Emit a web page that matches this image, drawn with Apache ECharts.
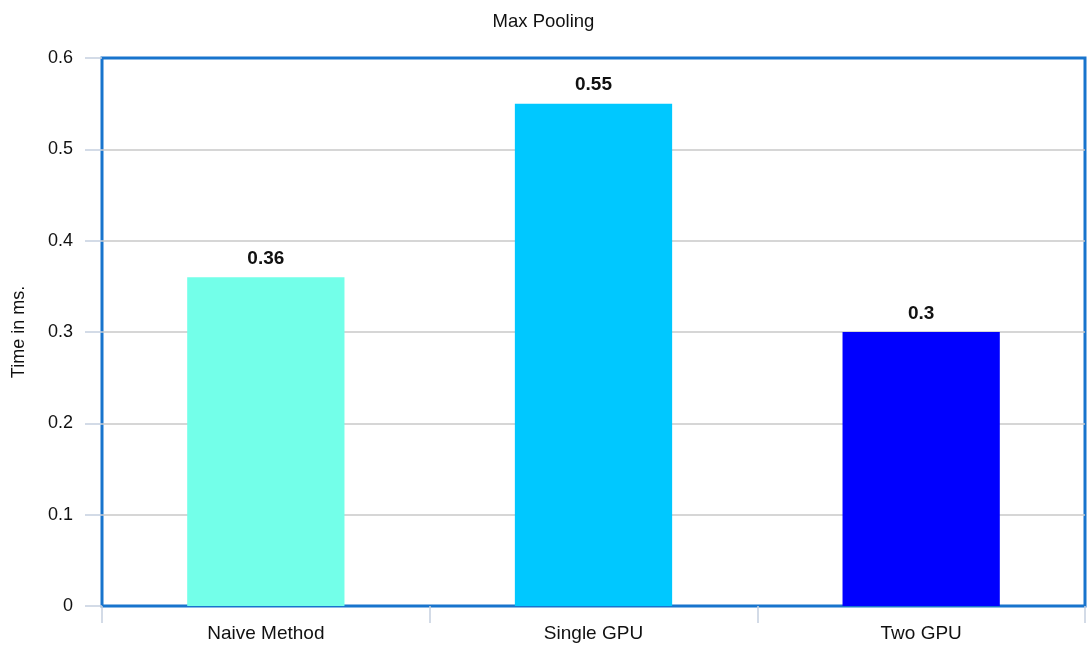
<!DOCTYPE html>
<html>
<head>
<meta charset="utf-8">
<script src="https://cdn.jsdelivr.net/npm/echarts@6/dist/echarts.min.js"></script>
<style>
  html, body { margin: 0; padding: 0; background: #fff; }
  #chart { width: 1087px; height: 648px; }
</style>
</head>
<body>
<div id="chart"></div>
<script>
// Max pooling timings per method
const categories = ['Naive Method', 'Single GPU', 'Two GPU'];
const times = [0.36, 0.55, 0.3];
const barColors = ['#73ffe9', '#00c8ff', '#0000ff'];
const yTicks = [0, 0.1, 0.2, 0.3, 0.4, 0.5, 0.6];

const chart = echarts.init(document.getElementById('chart'));
chart.setOption({
  animation: false,
  backgroundColor: '#ffffff',
  textStyle: { fontFamily: 'Liberation Sans, Arial, sans-serif' },
  title: {
    text: 'Max Pooling',
    left: 'center',
    top: 7,
    textStyle: { fontSize: 18.5, fontWeight: 'normal', color: '#111' }
  },
  grid: {
    left: 102, right: 2, top: 58, bottom: 42,
    outerBoundsMode: 'none',
    containLabel: false,
    show: true,
    borderColor: '#1874cd',
    borderWidth: 3,
    backgroundColor: 'transparent'
  },
  xAxis: {
    type: 'category',
    data: categories,
    axisLine: { show: false },
    axisTick: { show: true, length: 17, alignWithLabel: false, lineStyle: { color: '#c5d0e0', width: 1.5 } },
    axisLabel: { color: '#111', fontSize: 19, margin: 18 },
    splitLine: { show: false }
  },
  yAxis: {
    type: 'value',
    min: yTicks[0],
    max: yTicks[yTicks.length - 1],
    interval: 0.1,
    name: 'Time in ms.',
    nameLocation: 'middle',
    nameRotate: 90,
    nameGap: 74,
    nameTextStyle: { color: '#111', fontSize: 18 },
    axisLine: { show: false },
    axisTick: { show: true, length: 17, lineStyle: { color: '#c5d0e0', width: 1.5 } },
    axisLabel: { color: '#111', fontSize: 18, margin: 29 },
    splitLine: {
      show: true,
      showMinLine: false,
      showMaxLine: false,
      lineStyle: { color: '#c8c8c8', width: 1.5 }
    }
  },
  series: [{
    type: 'bar',
    barWidth: '48%',
    data: times.map((v, i) => ({ value: v, itemStyle: { color: barColors[i] } })),
    label: {
      show: true,
      position: 'top',
      distance: 9,
      color: '#111',
      fontSize: 19,
      fontWeight: 'bold'
    }
  }]
});
</script>
</body>
</html>
